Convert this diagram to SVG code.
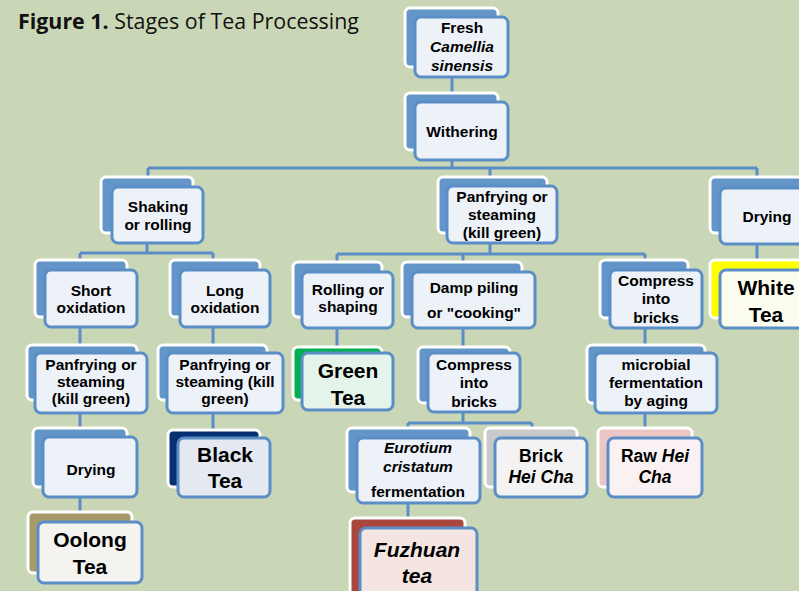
<svg xmlns="http://www.w3.org/2000/svg" width="799" height="591" viewBox="0 0 799 591">
<style>
.bg{fill:#cad7b6}
.back{fill:#6395c9;stroke:#ffffff;stroke-width:3}
.front{fill:#edf2f8;stroke:#5b8ec6;stroke-width:3}
.conn{fill:none;stroke:#5b8ec6;stroke-width:3}
.t{font-family:"Liberation Sans",Arial,sans-serif;font-weight:bold;font-size:15.5px;fill:#000;text-anchor:middle}
.b{font-size:21px}
.m{font-size:17.5px}
.i{font-style:italic}
.title{font-family:"Open Sans","Noto Sans",sans-serif;font-size:21.4px;fill:#111}
</style>
<rect class="bg" x="0" y="0" width="799" height="591"/>
<text class="title" x="18" y="29"><tspan font-weight="bold">Figure 1.</tspan> Stages of Tea Processing</text>
<g id="connectors">
<path class="conn" d="M452,77V93 M452,160V168 M148,168H757 M148,168V177 M490,168V177 M757,168V177 M147,243V253 M80,253H213 M80,253V260 M213,253V260 M490,243V254 M337,254H645 M337,254V262 M463,254V262 M645,254V260 M757,244V260 M80,327V345 M213,327V345 M337,328V347 M463,328V347 M645,328V345 M80,413V428 M213,413V430 M463,412V423 M408,423H532 M408,423V428 M532,423V428 M645,413V428 M80,497V512 M408,503V518"/>
</g>
<g id="n-fresh"><rect class="back" x="405" y="8" width="93" height="59" rx="5"/><rect class="front" x="415" y="17" width="93" height="60" rx="6"/>
<text class="t" x="462" y="33">Fresh<tspan class="i" x="462" dy="19">Camellia</tspan><tspan class="i" x="462" dy="19">sinensis</tspan></text></g>
<g id="n-withering"><rect class="back" x="405" y="93" width="93" height="57" rx="5"/><rect class="front" x="415" y="102" width="93" height="58" rx="6"/>
<text class="t" x="462" y="137">Withering</text></g>
<g id="n-shaking"><rect class="back" x="101" y="177" width="92" height="56" rx="5"/><rect class="front" x="112" y="187" width="91" height="56" rx="6"/>
<text class="t" x="158" y="212">Shaking<tspan x="158" dy="18">or rolling</tspan></text></g>
<g id="n-panfry-c"><rect class="back" x="438" y="177" width="109" height="56" rx="5"/><rect class="front" x="447" y="186" width="110" height="57" rx="6"/>
<text class="t" x="502" y="202">Panfrying or<tspan x="502" dy="18">steaming</tspan><tspan x="502" dy="18">(kill green)</tspan></text></g>
<g id="n-drying-r"><rect class="back" x="710" y="177" width="100" height="56" rx="5"/><rect class="front" x="720" y="188" width="100" height="56" rx="6"/>
<text class="t" x="767" y="222">Drying</text></g>
<g id="n-short"><rect class="back" x="35" y="260" width="92" height="57" rx="5"/><rect class="front" x="45" y="270" width="92" height="57" rx="6"/>
<text class="t" x="91" y="296">Short<tspan x="91" dy="17">oxidation</tspan></text></g>
<g id="n-long"><rect class="back" x="170" y="260" width="90" height="57" rx="5"/><rect class="front" x="180" y="270" width="90" height="57" rx="6"/>
<text class="t" x="225" y="296">Long<tspan x="225" dy="17">oxidation</tspan></text></g>
<g id="n-rolling"><rect class="back" x="293" y="262" width="89" height="55" rx="5"/><rect class="front" x="302" y="272" width="91" height="56" rx="6"/>
<text class="t" x="348" y="295">Rolling or<tspan x="348" dy="17">shaping</tspan></text></g>
<g id="n-damp"><rect class="back" x="402" y="262" width="120" height="55" rx="5"/><rect class="front" x="412" y="272" width="123" height="56" rx="6"/>
<text class="t" x="474" y="293">Damp piling<tspan x="474" dy="25">or "cooking"</tspan></text></g>
<g id="n-compress-r"><rect class="back" x="600" y="260" width="88" height="58" rx="5"/><rect class="front" x="610" y="270" width="92" height="58" rx="6"/>
<text class="t" x="656" y="286">Compress<tspan x="656" dy="18">into</tspan><tspan x="656" dy="19">bricks</tspan></text></g>
<g id="n-white"><rect class="back" x="710" y="260" width="100" height="58" rx="5" style="fill:#ffff00"/><rect class="front" x="720" y="270" width="100" height="58" rx="6" style="fill:#fdfdef"/>
<text class="t b" x="766" y="295">White<tspan x="766" dy="27">Tea</tspan></text></g>
<g id="n-panfry-l"><rect class="back" x="27" y="345" width="110" height="55" rx="5"/><rect class="front" x="35" y="353" width="112" height="60" rx="6"/>
<text class="t" x="91" y="370">Panfrying or<tspan x="91" dy="17">steaming</tspan><tspan x="91" dy="17">(kill green)</tspan></text></g>
<g id="n-panfry-m"><rect class="back" x="158" y="345" width="109" height="55" rx="5"/><rect class="front" x="167" y="353" width="116" height="60" rx="6"/>
<text class="t" x="225" y="370">Panfrying or<tspan x="225" dy="17">steaming (kill</tspan><tspan x="225" dy="17">green)</tspan></text></g>
<g id="n-green"><rect class="back" x="293" y="347" width="89" height="53" rx="5" style="fill:#00b050"/><rect class="front" x="302" y="353" width="91" height="57" rx="6" style="fill:#e5f4ea"/>
<text class="t b" x="348" y="378">Green<tspan x="348" dy="27">Tea</tspan></text></g>
<g id="n-compress-c"><rect class="back" x="418" y="347" width="92" height="56" rx="5"/><rect class="front" x="428" y="353" width="92" height="59" rx="6"/>
<text class="t" x="474" y="370">Compress<tspan x="474" dy="18">into</tspan><tspan x="474" dy="19">bricks</tspan></text></g>
<g id="n-microbial"><rect class="back" x="587" y="345" width="118" height="58" rx="5"/><rect class="front" x="595" y="353" width="122" height="60" rx="6"/>
<text class="t" x="656" y="370">microbial<tspan x="656" dy="18">fermentation</tspan><tspan x="656" dy="18">by aging</tspan></text></g>
<g id="n-drying-l"><rect class="back" x="33" y="428" width="94" height="59" rx="5"/><rect class="front" x="43" y="437" width="94" height="60" rx="6"/>
<text class="t" x="91" y="475">Drying</text></g>
<g id="n-black"><rect class="back" x="168" y="430" width="92" height="57" rx="5" style="fill:#06306f"/><rect class="front" x="178" y="438" width="92" height="59" rx="6" style="fill:#e3e8f1"/>
<text class="t b" x="225" y="462">Black<tspan x="225" dy="26">Tea</tspan></text></g>
<g id="n-eurotium"><rect class="back" x="347" y="428" width="123" height="64" rx="5"/><rect class="front" x="357" y="438" width="123" height="65" rx="6"/>
<text class="t" x="418" y="453"><tspan class="i">Eurotium</tspan><tspan class="i" x="418" dy="19">cristatum</tspan><tspan x="418" dy="25">fermentation</tspan></text></g>
<g id="n-brick"><rect class="back" x="485" y="428" width="92" height="59" rx="5" style="fill:#c9c9c9"/><rect class="front" x="495" y="438" width="92" height="59" rx="6" style="fill:#f3f3f3"/>
<text class="t m" x="541" y="462">Brick<tspan class="i" x="541" dy="21">Hei Cha</tspan></text></g>
<g id="n-raw"><rect class="back" x="598" y="428" width="94" height="59" rx="5" style="fill:#ebc6c4"/><rect class="front" x="608" y="438" width="94" height="59" rx="6" style="fill:#faf2f2"/>
<text class="t m" x="655" y="462">Raw <tspan class="i">Hei</tspan><tspan class="i" x="655" dy="21">Cha</tspan></text></g>
<g id="n-oolong"><rect class="back" x="28" y="512" width="104" height="61" rx="5" style="fill:#a69a6b"/><rect class="front" x="38" y="522" width="104" height="61" rx="6" style="fill:#f4f3ef"/>
<text class="t b" x="90" y="547">Oolong<tspan x="90" dy="27">Tea</tspan></text></g>
<g id="n-fuzhuan"><rect class="back" x="350" y="518" width="115" height="80" rx="5" style="fill:#a9473f"/><rect class="front" x="360" y="528" width="117" height="80" rx="6" style="fill:#f4e5e3"/>
<text class="t b i" x="417" y="557">Fuzhuan<tspan x="417" dy="26">tea</tspan></text></g>
</svg>
